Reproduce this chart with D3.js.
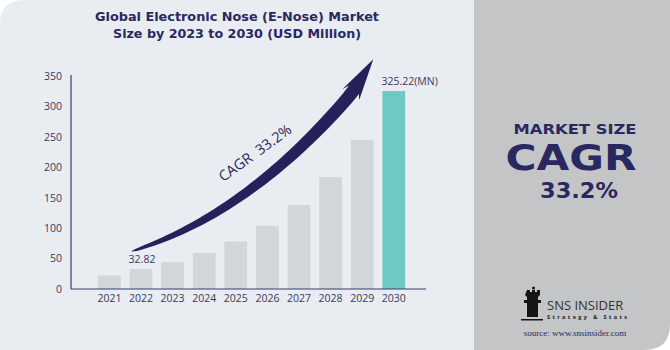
<!DOCTYPE html>
<html>
<head>
<meta charset="utf-8">
<script src="https://cdn.jsdelivr.net/npm/d3@7"></script>
<style>
  body { margin: 0; background: #fff; }
  svg { display: block; }
</style>
</head>
<body>
<div id="chart-container"></div>
<script>
// Dữ liệu
const years = ["2021", "2022", "2023", "2024", "2025", "2026", "2027", "2028", "2029", "2030"];
const marketSize = [22, 32.82, 44, 59, 78, 104, 138, 184, 245, 325.22];
const yTicks = [0, 50, 100, 150, 200, 250, 300, 350];
const valueLabels = { "2022": "32.82", "2030": "325.22(MN)" };
const titleLines = ["Global Electronic Nose (E-Nose) Market", "Size by 2023 to 2030 (USD Million)"];
const titleWidths = [284, 248];

const W = 670, H = 350;
const navy = "#2a2860";
const font = "'Open Sans', sans-serif";
const wideFont = "'DejaVu Sans', sans-serif";

const svg = d3.select("#chart-container")
    .append("svg")
    .attr("width", W)
    .attr("height", H)
    .style("font-family", font);

// Nền trái (bo góc trên trái)
svg.append("path")
    .attr("d", `M0,24 Q0,0 24,0 L474,0 L474,${H} L0,${H} Z`)
    .attr("fill", "#e9ecf1");

// Nền phải (bo góc dưới phải)
svg.append("path")
    .attr("d", `M474,0 L${W},0 L${W},${H - 26} Q${W},${H} ${W - 26},${H} L474,${H} Z`)
    .attr("fill", "#c4c5c7");

// Tiêu đề
svg.selectAll(".title")
    .data(titleLines)
    .enter()
    .append("text")
    .attr("class", "title")
    .attr("x", 237)
    .attr("y", (d, i) => 21 + i * 16.5)
    .attr("text-anchor", "middle")
    .style("font-family", wideFont)
    .style("font-size", "12.8px")
    .style("font-weight", "700")
    .attr("textLength", (d, i) => titleWidths[i])
    .attr("lengthAdjust", "spacingAndGlyphs")
    .attr("fill", navy)
    .text((d) => d);

// Thang đo
const xScale = d3.scaleBand()
    .domain(years)
    .range([93.6, 409.6])
    .paddingInner(0.28)
    .paddingOuter(0.14);

const yScale = d3.scaleLinear()
    .domain([0, 350])
    .range([289, 76]);

// Cột
svg.selectAll(".bar")
    .data(years)
    .enter()
    .append("rect")
    .attr("class", "bar")
    .attr("x", (d) => xScale(d))
    .attr("y", (d, i) => yScale(marketSize[i]))
    .attr("width", xScale.bandwidth())
    .attr("height", (d, i) => yScale(0) - yScale(marketSize[i]))
    .attr("fill", (d) => d === "2030" ? "#6cc9c4" : "#d1d6db");

// Trục y
const yAxis = svg.append("g")
    .attr("transform", "translate(71,0)")
    .call(d3.axisLeft(yScale).tickValues(yTicks).tickSize(0).tickPadding(9));
yAxis.select(".domain").attr("stroke", "#3d3b6b").attr("stroke-width", 1.2)
    .attr("d", `M0,${yScale(350) - 1}V${yScale(0)}`);
yAxis.selectAll("text").style("font-size", "10.5px").style("font-family", font).attr("fill", "#3a3960");

// Trục x
const xAxis = svg.append("g")
    .attr("transform", `translate(0,${yScale(0)})`)
    .call(d3.axisBottom(xScale).tickSize(0).tickPadding(6));
xAxis.select(".domain").attr("stroke", "#3d3b6b").attr("stroke-width", 1.2)
    .attr("d", "M71,0H426");
xAxis.selectAll("text").style("font-size", "10.5px").style("font-family", font).attr("fill", "#3a3960");

// Nhãn giá trị (căn theo mép trái cột)
svg.selectAll(".label")
    .data(years.filter((d) => valueLabels[d]))
    .enter()
    .append("text")
    .attr("class", "label")
    .attr("x", (d) => xScale(d) - 1)
    .attr("y", (d) => yScale(marketSize[years.indexOf(d)]) - 6)
    .style("font-size", "10.5px")
    .attr("fill", "#3a3960")
    .text((d) => valueLabels[d]);

// Mũi tên cong CAGR
const p0 = [xScale("2022") + 2, yScale(62)];
const pc = [xScale("2026") - 8, yScale(122)];
const p2 = [xScale("2029") + 1, yScale(322)];
const bez = (t) => [
    (1 - t) * (1 - t) * p0[0] + 2 * (1 - t) * t * pc[0] + t * t * p2[0],
    (1 - t) * (1 - t) * p0[1] + 2 * (1 - t) * t * pc[1] + t * t * p2[1]
];
const deriv = (t) => {
    const dx = 2 * (1 - t) * (pc[0] - p0[0]) + 2 * t * (p2[0] - pc[0]);
    const dy = 2 * (1 - t) * (pc[1] - p0[1]) + 2 * t * (p2[1] - pc[1]);
    const l = Math.hypot(dx, dy);
    return [dx / l, dy / l];
};
const N = 50;
const upper = [], lower = [];
for (let i = 0; i <= N; i++) {
    const t = i / N;
    const [x, y] = bez(t);
    const [tx, ty] = deriv(t);
    const w = 0.3 + 6.2 * Math.sqrt(t);
    upper.push([x + ty * w, y - tx * w]);
    lower.push([x - ty * w, y + tx * w]);
}
// Đầu mũi tên, hơi xoay lên so với tiếp tuyến
const [ex, ey] = p2;
const [t0x, t0y] = deriv(1);
const rot = -0.14;
const hx = t0x * Math.cos(rot) - t0y * Math.sin(rot);
const hy = t0x * Math.sin(rot) + t0y * Math.cos(rot);
const hw = 10, hl = 40;
const headL = [ex + hy * hw - hx * 2, ey - hx * hw - hy * 2];
const headR = [ex - hy * hw - hx * 2, ey + hx * hw - hy * 2];
const tip = [ex + hx * hl, ey + hy * hl];
const joinU = upper[N], joinL = lower[N];
upper[N] = [joinU[0] + hx * 4, joinU[1] + hy * 4];
lower[N] = [joinL[0] + hx * 4, joinL[1] + hy * 4];
const arrowPts = [...upper, headL, tip, headR, ...lower.reverse()];
svg.append("path")
    .attr("d", d3.line()(arrowPts) + "Z")
    .attr("fill", "#25225b");

svg.append("text")
    .attr("transform", "translate(258,157) rotate(-36)")
    .attr("text-anchor", "middle")
    .style("font-size", "14.5px")
    .attr("fill", navy)
    .style("white-space", "pre")
    .text("CAGR  33.2%");

// Khối bên phải
svg.append("text").attr("x", 575).attr("y", 134).attr("text-anchor", "middle")
    .style("font-family", wideFont).style("font-size", "14px").style("font-weight", "700")
    .attr("textLength", 123).attr("lengthAdjust", "spacingAndGlyphs")
    .attr("fill", navy)
    .text("MARKET SIZE");
svg.append("text").attr("x", 571).attr("y", 170).attr("text-anchor", "middle")
    .style("font-family", wideFont).style("font-size", "35px").style("font-weight", "700")
    .attr("textLength", 131).attr("lengthAdjust", "spacingAndGlyphs")
    .attr("fill", navy)
    .text("CAGR");
svg.append("text").attr("x", 579).attr("y", 198).attr("text-anchor", "middle")
    .style("font-family", wideFont).style("font-size", "20.5px").style("font-weight", "700")
    .attr("textLength", 78).attr("lengthAdjust", "spacingAndGlyphs")
    .attr("fill", navy)
    .text("33.2%");

// Logo SNS Insider
const logo = svg.append("g").attr("fill", "#151515");
logo.append("path")
    .attr("d", "M527,290 h3 v2 h2 v-2 h3 v2 h2 v-2 h3 v5 l-2,2 v3 h3 v3 h-3 v14 h-11 v-14 h-3 v-3 h3 v-3 l-2,-2 Z");
logo.append("circle").attr("cx", 533.5).attr("cy", 288).attr("r", 1.5);
logo.append("rect").attr("x", 521).attr("y", 319).attr("width", 22).attr("height", 1.5);
svg.append("text").attr("x", 547).attr("y", 310)
    .style("font-size", "13px")
    .attr("fill", "#333")
    .text("SNS INSIDER");
svg.append("text").attr("x", 547).attr("y", 319)
    .style("font-size", "5.5px").style("font-weight", "700")
    .attr("textLength", 80).attr("lengthAdjust", "spacing")
    .attr("fill", "#222")
    .text("Strategy & Stats");
svg.append("text").attr("x", 575).attr("y", 336).attr("text-anchor", "middle")
    .style("font-size", "9px").style("font-family", "'Liberation Serif', serif")
    .attr("fill", "#2a2860")
    .text("source: www.snsinsider.com");
</script>
</body>
</html>
